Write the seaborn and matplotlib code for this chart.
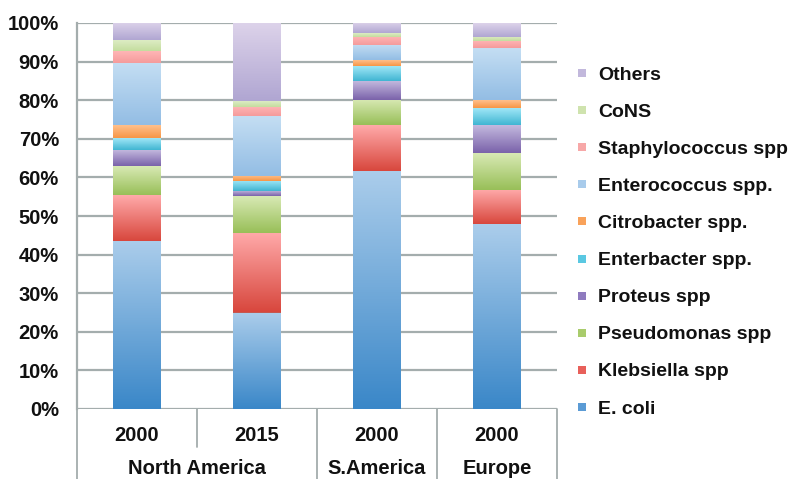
import numpy as np
import pandas as pd
import seaborn as sns
import matplotlib.pyplot as plt
from matplotlib.colors import LinearSegmentedColormap
from matplotlib.lines import Line2D

# bar keys, year tick labels and region group labels
bars = ["NA 2000", "NA 2015", "SA 2000", "EU 2000"]
years = ["2000", "2015", "2000", "2000"]
regions = ["North America", "S.America", "Europe"]
region_centers = [0.5, 2.0, 3.0]

species = ["E. coli", "Klebsiella spp", "Pseudomonas spp", "Proteus spp",
           "Enterbacter spp.", "Citrobacter spp.", "Enterococcus spp.",
           "Staphylococcus spp", "CoNS", "Others"]

# percentages per bar (NA 2000, NA 2015, SA 2000, EU 2000)
e_coli = [43.6, 25.0, 61.7, 47.9]
klebsiella = [11.9, 20.6, 11.8, 8.9]
pseudomonas = [7.4, 9.5, 6.6, 9.5]
proteus = [4.3, 1.3, 5.0, 7.4]
enterobacter = [3.0, 2.6, 3.7, 4.3]
citrobacter = [3.3, 1.4, 1.5, 2.0]
enterococcus = [16.1, 15.4, 3.9, 13.4]
staph = [3.1, 2.4, 2.2, 1.9]
cons = [2.8, 1.5, 1.0, 1.1]
others = [4.5, 20.3, 2.6, 3.6]

values = [e_coli, klebsiella, pseudomonas, proteus, enterobacter,
          citrobacter, enterococcus, staph, cons, others]

# (light top, dark bottom, legend swatch)
colors = {
    "E. coli": ("#abcdeb", "#3a87c8", "#5b9bd5"),
    "Klebsiella spp": ("#ffaaaa", "#d8473d", "#e8605a"),
    "Pseudomonas spp": ("#d8e9b4", "#98bf58", "#a9cc6c"),
    "Proteus spp": ("#c6bce0", "#7a62aa", "#8f7bbf"),
    "Enterbacter spp.": ("#a0e7f7", "#40b5d2", "#5ac8e2"),
    "Citrobacter spp.": ("#ffc08c", "#f79646", "#f9a25a"),
    "Enterococcus spp.": ("#c4def3", "#93bde4", "#a8cbeb"),
    "Staphylococcus spp": ("#ffb6b6", "#f59b9b", "#f7a8a8"),
    "CoNS": ("#ddecc4", "#c4dd9e", "#cfe3ae"),
    "Others": ("#ddd3ea", "#b0a6d2", "#c2b8dc"),
}

rows = []
for sp, vals in zip(species, values):
    for b, v in zip(bars, vals):
        rows.append({"bar": b, "species": sp, "pct": v})
df = pd.DataFrame(rows)

sns.set_style("white")
plt.rcParams["font.family"] = ["Liberation Sans", "DejaVu Sans"]
plt.rcParams["font.weight"] = "bold"

fig = plt.figure(figsize=(8.08, 4.79), dpi=100)
ax = fig.add_axes([77 / 808, 1 - 409 / 479, 480 / 808, 386 / 479])

grid_col = "#a4adad"
txt_col = "#111111"
fs = 14.5


def paint_gradient(ax, patch, top, bottom):
    x0, y0 = patch.get_x(), patch.get_y()
    w, h = patch.get_width(), patch.get_height()
    cmap = LinearSegmentedColormap.from_list("g", [bottom, top])
    grad = np.linspace(0, 1, 128).reshape(-1, 1)
    im = ax.imshow(grad, cmap=cmap, origin="lower", aspect="auto",
                   extent=[x0, x0 + w, y0, y0 + h], zorder=2,
                   interpolation="bilinear")
    im.set_clip_path(patch)


cum = np.zeros(len(bars))
for sp in species:
    sub = df[df["species"] == sp].set_index("bar").loc[bars].reset_index()
    n_before = len(ax.patches)
    sns.barplot(data=sub, x="bar", y="pct", order=bars, ax=ax, width=0.4,
                color=colors[sp][1], bottom=cum, linewidth=0, zorder=2)
    for p in ax.patches[n_before:]:
        paint_gradient(ax, p, colors[sp][0], colors[sp][1])
    cum = cum + sub["pct"].to_numpy()

ax.set_xlim(-0.5, 3.5)
ax.set_ylim(0, 100)
ax.set_yticks(range(0, 101, 10))
ax.set_yticklabels([f"{t}%" for t in range(0, 101, 10)])
ax.set_xticks(range(len(bars)))
ax.set_xticklabels([])
ax.set_xlabel("")
ax.set_ylabel("")
ax.set_axisbelow(True)
ax.yaxis.grid(True, color=grid_col, linewidth=1.6)
for s in ["top", "right", "bottom"]:
    ax.spines[s].set_visible(False)
ax.spines["left"].set_color(grid_col)
ax.spines["left"].set_linewidth(1.6)
ax.tick_params(axis="y", length=5, width=1.6, color=grid_col, labelsize=fs,
               pad=8, labelcolor=txt_col)
ax.tick_params(axis="x", length=0)

# multi-level category axis
trans = ax.get_xaxis_transform()
for i, y in enumerate(years):
    ax.text(i, -0.068, y, transform=trans, ha="center", va="center",
            fontsize=fs, color=txt_col)
for name, c in zip(regions, region_centers):
    ax.text(c, -0.155, name, transform=trans, ha="center", va="center",
            fontsize=fs, color=txt_col)
for x, y_end in [(-0.5, -0.185), (0.5, -0.098), (1.5, -0.185),
                 (2.5, -0.185), (3.5, -0.185)]:
    ax.add_line(Line2D([x, x], [0, y_end], transform=trans, color=grid_col,
                       linewidth=1.3, clip_on=False))

handles = [Line2D([], [], marker="s", linestyle="none", markersize=6,
                  markerfacecolor=colors[sp][2], markeredgewidth=0)
           for sp in species[::-1]]
fig.legend(handles, species[::-1], loc="center left",
           bbox_to_anchor=(555 / 808, 1 - 242 / 479), frameon=False,
           fontsize=14, labelspacing=1.0, handletextpad=0.3,
           handlelength=1.0, labelcolor=txt_col)

fig.savefig("out.png", dpi=100)
